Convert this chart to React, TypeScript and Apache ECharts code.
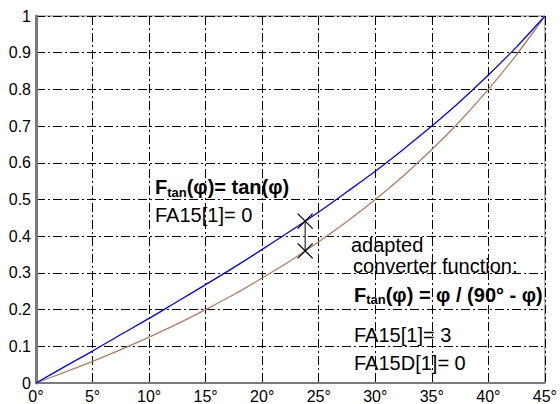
import React, { useEffect, useRef } from "react";
import * as echarts from "echarts";

const angles = [0, 2.5, 5, 7.5, 10, 12.5, 15, 17.5, 20, 22.5, 25, 27.5, 30, 32.5, 35, 37.5, 40, 42.5, 45];
const tanValues = [0, 0.044, 0.087, 0.132, 0.176, 0.222, 0.268, 0.315, 0.364, 0.414, 0.466, 0.521, 0.577, 0.637, 0.7, 0.767, 0.839, 0.916, 1.0];
const adaptedValues = [0, 0.029, 0.059, 0.091, 0.125, 0.161, 0.2, 0.241, 0.286, 0.333, 0.385, 0.44, 0.5, 0.565, 0.636, 0.714, 0.8, 0.895, 1.0];
const markerAngle = 23.8;
const markerValues = [0.441, 0.36];

const FONT = "'Liberation Sans', Arial, sans-serif";

export default function App() {
  const ref = useRef<HTMLDivElement>(null);
  useEffect(() => {
    if (!ref.current) return;
    const chart = echarts.init(ref.current, undefined, { renderer: "svg" });
    const gridDash = { color: "#000", width: 1, type: [9, 3, 2, 3] as any };
    const boldRich = {
      b: { fontSize: 20, fontWeight: "bold", fontFamily: FONT, lineHeight: 23, fill: "#000" },
      s: { fontSize: 13, fontWeight: "bold", fontFamily: FONT, lineHeight: 13, verticalAlign: "bottom", fill: "#000" },
    } as any;
    const plain = (text: string, x: number, y: number) => ({
      type: "text",
      left: x,
      top: y,
      style: { text, fontSize: 20, fontFamily: FONT, fill: "#000", lineHeight: 23 },
    });
    chart.setOption({
      animation: false,
      grid: { left: 36, top: 16, right: 7, bottom: 21, show: true, borderColor: "#808080", borderWidth: 1 },
      xAxis: {
        type: "value",
        min: 0,
        max: 45,
        interval: 5,
        axisLine: { show: true, lineStyle: { color: "#7a7a7a", width: 2 } },
        axisTick: { show: false },
        axisLabel: { formatter: (v: number) => `${v}°`, fontSize: 16, color: "#000", fontFamily: FONT, margin: 5 },
        splitLine: { show: true, lineStyle: gridDash },
      },
      yAxis: {
        type: "value",
        min: 0,
        max: 1,
        interval: 0.1,
        axisLine: { show: true, lineStyle: { color: "#7a7a7a", width: 3 } },
        axisTick: { show: false },
        axisLabel: {
          formatter: (v: number) => String(parseFloat(v.toFixed(1))),
          fontSize: 16,
          color: "#000",
          fontFamily: FONT,
          margin: 5,
        },
        splitLine: { show: true, lineStyle: gridDash },
      },
      series: [
        {
          type: "line",
          data: angles.map((a, i) => [a, adaptedValues[i]]),
          smooth: 0.3,
          showSymbol: false,
          lineStyle: { color: "#bb7a5a", width: 1.3 },
          z: 3,
        },
        {
          type: "line",
          data: angles.map((a, i) => [a, tanValues[i]]),
          smooth: 0.3,
          showSymbol: false,
          lineStyle: { color: "#0000ff", width: 1.3 },
          z: 4,
        },
        {
          type: "line",
          data: markerValues.map((v) => [markerAngle, v]),
          symbol: "path://M0,0L10,10M10,0L0,10",
          symbolSize: 15,
          showSymbol: true,
          itemStyle: { color: "none", borderColor: "#000", borderWidth: 1.3 },
          lineStyle: { color: "#000", width: 1 },
          z: 5,
        },
      ],
      graphic: [
        {
          type: "text",
          left: 155,
          top: 177,
          style: { text: "{b|F}{s|tan}{b|(φ)= tan(φ)}", rich: boldRich },
        },
        plain("FA15[1]= 0", 155, 203),
        plain("adapted", 351, 233),
        plain("converter function:", 353, 254.5),
        {
          type: "text",
          left: 354,
          top: 284.5,
          style: { text: "{b|F}{s|tan}{b|(φ) = φ / (90° - φ)}", rich: boldRich },
        },
        plain("FA15[1]= 3", 354, 323),
        plain("FA15D[1]= 0", 354, 351.5),
      ],
    });
    return () => chart.dispose();
  }, []);
  return (
    <div
      ref={ref}
      style={{ position: "absolute", left: 0, top: 0, width: 560, height: 404, background: "#fff" }}
    />
  );
}
